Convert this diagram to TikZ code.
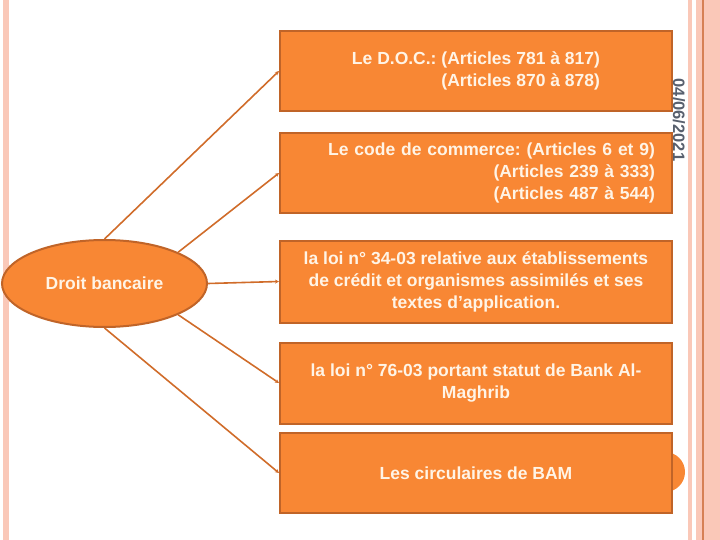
\documentclass[tikz,border=0pt]{standalone}
\usepackage{fontspec}
\setmainfont{Liberation Sans}
\frenchspacing
\usetikzlibrary{shapes.geometric,arrows.meta}
\definecolor{boxfill}{RGB}{248,135,52}
\definecolor{boxline}{RGB}{192,100,40}
\definecolor{linkline}{RGB}{208,108,42}
\definecolor{boxtext}{RGB}{255,244,230}
\definecolor{stripe}{RGB}{250,200,184}
\definecolor{stripedark}{RGB}{214,128,84}
\definecolor{datecol}{RGB}{88,96,110}
\begin{document}
\begin{tikzpicture}[x=1pt,y=-1pt,>=Stealth,
	loibox/.style={draw=boxline,line width=2pt,fill=boxfill,minimum width=392pt,inner sep=0pt,text=boxtext,font=\bfseries\fontsize{17.5}{22}\selectfont},
	lien/.style={draw=linkline,line width=1.6pt,-{Stealth[length=4pt,width=4pt]}}]
	\useasboundingbox (0,0) rectangle (720,540);
	% bandes du cadre
	\fill[stripe] (3,0) rectangle (9,540);
	\foreach \a/\b in {688/692,696/702,703.5/720}{
		\fill[stripe] (\a,0) rectangle (\b,540);
	}
	\fill[stripedark] (702,0) rectangle (703.5,540);
	\fill[boxfill] (665,472) circle (20);
	% ellipse et boites
	\node[ellipse,draw=boxline,line width=2pt,fill=boxfill,minimum width=205pt,minimum height=87pt,text=boxtext,font=\bfseries\fontsize{17.5}{22}\selectfont] (droit) at (104.5,283.5) {Droit bancaire};
	\node[loibox,minimum height=80pt,align=right] (doc) at (476,71) {Le D.O.C.: (Articles 781 à 817)\\(Articles 870 à 878)};
	\node[loibox,minimum height=80pt,text width=358pt,align=right] (commerce) at (476,173) {Le code de commerce: (Articles 6 et 9)\\(Articles 239 à 333)\\(Articles 487 à 544)};
	\node[loibox,minimum height=82pt,align=center] (loi34) at (476,281.5) {la loi n° 34-03 relative aux établissements\\de crédit et organismes assimilés et ses\\textes d’application.};
	\node[loibox,minimum height=81pt,align=center] (loi76) at (476,383) {la loi n° 76-03 portant statut de Bank Al-\\Maghrib};
	\node[loibox,minimum height=80pt] (bam) at (476,473) {Les circulaires de BAM};
	% liens
	\draw[lien] (droit.north) -- (doc.west);
	\draw[lien] (droit.23) -- (commerce.west);
	\draw[lien] (droit.east) -- (loi34.west);
	\draw[lien] (droit.-23) -- (loi76.west);
	\draw[lien] (droit.south) -- (bam.west);
	\node[rotate=-90,text=datecol,font=\bfseries\fontsize{16.5}{18}\selectfont] (date) at (679,120) {04/06/2021};
\end{tikzpicture}
\end{document}
